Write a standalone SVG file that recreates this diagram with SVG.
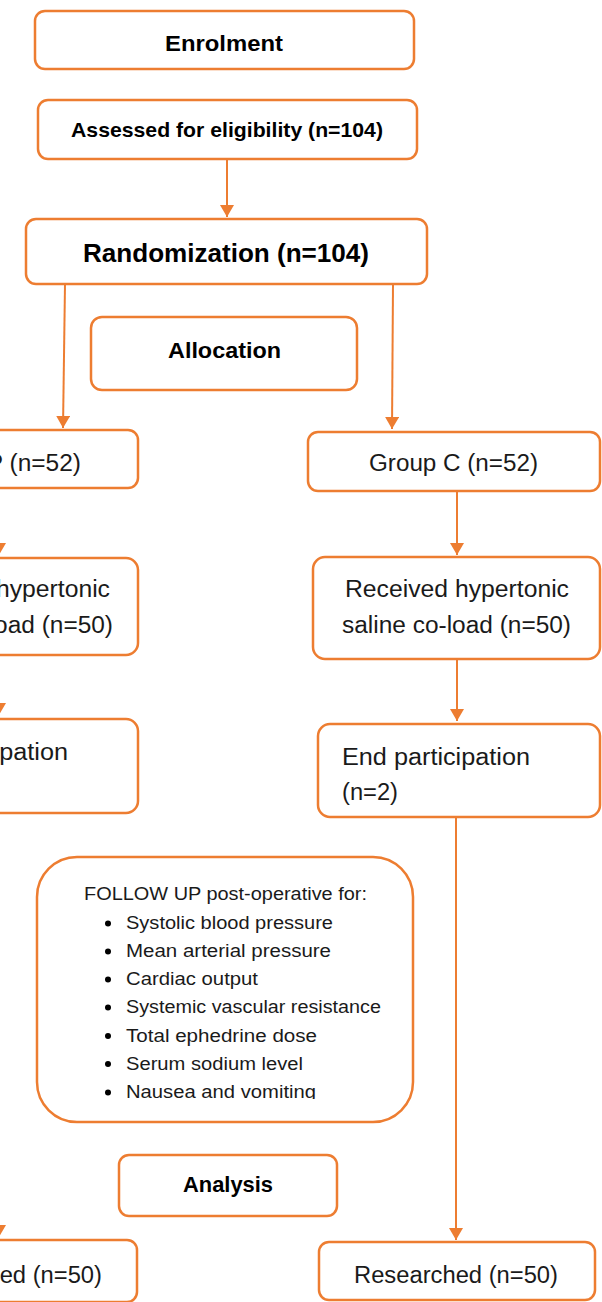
<svg xmlns="http://www.w3.org/2000/svg" width="602" height="1302" viewBox="0 0 602 1302">
<style>
.box{fill:#fff;stroke:#ED7D31;stroke-width:2.5}
.conn{fill:none;stroke:#ED7D31;stroke-width:2}
.b{font-family:"Liberation Sans",Arial,sans-serif;font-weight:bold;fill:#000}
.r{font-family:"Liberation Sans",Arial,sans-serif;fill:#1a1a1a}
.m{text-anchor:middle}
</style>
<defs>
<marker id="ah" viewBox="0 0 12 14" refX="12" refY="7" markerWidth="12" markerHeight="14" markerUnits="userSpaceOnUse" orient="auto">
<path d="M0,0 L12,7 L0,14 z" fill="#ED7D31"/>
</marker>
<clipPath id="fclip"><rect x="30" y="850" width="400" height="249"/></clipPath>
</defs>
<rect width="602" height="1302" fill="#fff"/>
<g id="connectors">
<path class="conn" d="M227,159 L227,217" marker-end="url(#ah)"/>
<path class="conn" d="M65,284 L63,428" marker-end="url(#ah)"/>
<path class="conn" d="M393,284 L392,429" marker-end="url(#ah)"/>
<path class="conn" d="M457,491 L457,555" marker-end="url(#ah)"/>
<path class="conn" d="M457,659 L457,721" marker-end="url(#ah)"/>
<path class="conn" d="M456,817 L456,1240" marker-end="url(#ah)"/>
<path class="conn" d="M-1,488 L-1,555" marker-end="url(#ah)"/>
<path class="conn" d="M-1,655 L-1,715" marker-end="url(#ah)"/>
<path class="conn" d="M-1,813 L-1,1237" marker-end="url(#ah)"/>
</g>
<g id="enrolment">
<rect class="box" x="35" y="11" width="379" height="58" rx="10"/>
<text class="b m" x="224" y="51" font-size="21.5" textLength="118" lengthAdjust="spacingAndGlyphs">Enrolment</text>
</g>
<g id="assessed">
<rect class="box" x="38" y="100" width="379" height="59" rx="10"/>
<text class="b m" x="227" y="137" font-size="21" textLength="312" lengthAdjust="spacingAndGlyphs">Assessed for eligibility (n=104)</text>
</g>
<g id="randomization">
<rect class="box" x="26" y="219" width="401" height="65" rx="10"/>
<text class="b m" x="226" y="262" font-size="25.5" textLength="286" lengthAdjust="spacingAndGlyphs">Randomization (n=104)</text>
</g>
<g id="allocation">
<rect class="box" x="91" y="317" width="266" height="73" rx="11"/>
<text class="b m" x="224.5" y="358" font-size="22" textLength="113" lengthAdjust="spacingAndGlyphs">Allocation</text>
</g>
<g id="groupP">
<rect class="box" x="-155" y="430" width="293" height="58" rx="10"/>
<text class="r" x="-88" y="471" font-size="23" textLength="169" lengthAdjust="spacingAndGlyphs">Group P (n=52)</text>
</g>
<g id="groupC">
<rect class="box" x="308" y="432" width="292" height="59" rx="10"/>
<text class="r m" x="453.5" y="471" font-size="23" textLength="169" lengthAdjust="spacingAndGlyphs">Group C (n=52)</text>
</g>
<g id="receivedP">
<rect class="box" x="-150" y="558" width="288" height="97" rx="12"/>
<text class="r" x="-114" y="597" font-size="23" textLength="224" lengthAdjust="spacingAndGlyphs">Received hypertonic</text>
<text class="r" x="-116" y="633" font-size="23" textLength="229" lengthAdjust="spacingAndGlyphs">saline co-load (n=50)</text>
</g>
<g id="receivedC">
<rect class="box" x="313" y="557" width="287" height="102" rx="12"/>
<text class="r m" x="457" y="597" font-size="23" textLength="224" lengthAdjust="spacingAndGlyphs">Received hypertonic</text>
<text class="r m" x="456.5" y="633" font-size="23" textLength="229" lengthAdjust="spacingAndGlyphs">saline co-load (n=50)</text>
</g>
<g id="endP">
<rect class="box" x="-145" y="719" width="283" height="94" rx="12"/>
<text class="r" x="-120" y="760" font-size="23" textLength="188" lengthAdjust="spacingAndGlyphs">End participation</text>
<text class="r" x="-120" y="796" font-size="23" textLength="56" lengthAdjust="spacingAndGlyphs">(n=2)</text>
</g>
<g id="endC">
<rect class="box" x="318" y="724" width="282" height="93" rx="12"/>
<text class="r" x="342" y="765" font-size="23" textLength="188" lengthAdjust="spacingAndGlyphs">End participation</text>
<text class="r" x="342" y="800" font-size="23" textLength="56" lengthAdjust="spacingAndGlyphs">(n=2)</text>
</g>
<g id="followup">
<rect class="box" x="37" y="857" width="376" height="265" rx="40"/>
<g clip-path="url(#fclip)">
<text class="r" x="84" y="900" font-size="17.5" textLength="283" lengthAdjust="spacingAndGlyphs">FOLLOW UP post-operative for:</text>
<g fill="#000">
<circle cx="108" cy="923.5" r="3"/>
<circle cx="108" cy="951.5" r="3"/>
<circle cx="108" cy="979.5" r="3"/>
<circle cx="108" cy="1007.5" r="3"/>
<circle cx="108" cy="1036" r="3"/>
<circle cx="108" cy="1064" r="3"/>
<circle cx="108" cy="1092.5" r="3"/>
</g>
<text class="r" x="126" y="929" font-size="17.5" textLength="207" lengthAdjust="spacingAndGlyphs">Systolic blood pressure</text>
<text class="r" x="126" y="957" font-size="17.5" textLength="205" lengthAdjust="spacingAndGlyphs">Mean arterial pressure</text>
<text class="r" x="126" y="985" font-size="17.5" textLength="132" lengthAdjust="spacingAndGlyphs">Cardiac output</text>
<text class="r" x="126" y="1013" font-size="17.5" textLength="255" lengthAdjust="spacingAndGlyphs">Systemic vascular resistance</text>
<text class="r" x="126" y="1042" font-size="17.5" textLength="191" lengthAdjust="spacingAndGlyphs">Total ephedrine dose</text>
<text class="r" x="126" y="1070" font-size="17.5" textLength="177" lengthAdjust="spacingAndGlyphs">Serum sodium level</text>
<text class="r" x="126" y="1098" font-size="17.5" textLength="190" lengthAdjust="spacingAndGlyphs">Nausea and vomiting</text>
</g>
</g>
<g id="analysis">
<rect class="box" x="119" y="1155" width="218" height="61" rx="10"/>
<text class="b m" x="228" y="1192" font-size="21.5" textLength="90" lengthAdjust="spacingAndGlyphs">Analysis</text>
</g>
<g id="researchedP">
<rect class="box" x="-140" y="1240" width="277" height="62" rx="10"/>
<text class="r" x="-102" y="1283" font-size="23" textLength="204" lengthAdjust="spacingAndGlyphs">Researched (n=50)</text>
</g>
<g id="researchedC">
<rect class="box" x="319" y="1242" width="276" height="58" rx="10"/>
<text class="r m" x="456" y="1283" font-size="23" textLength="204" lengthAdjust="spacingAndGlyphs">Researched (n=50)</text>
</g>
</svg>
